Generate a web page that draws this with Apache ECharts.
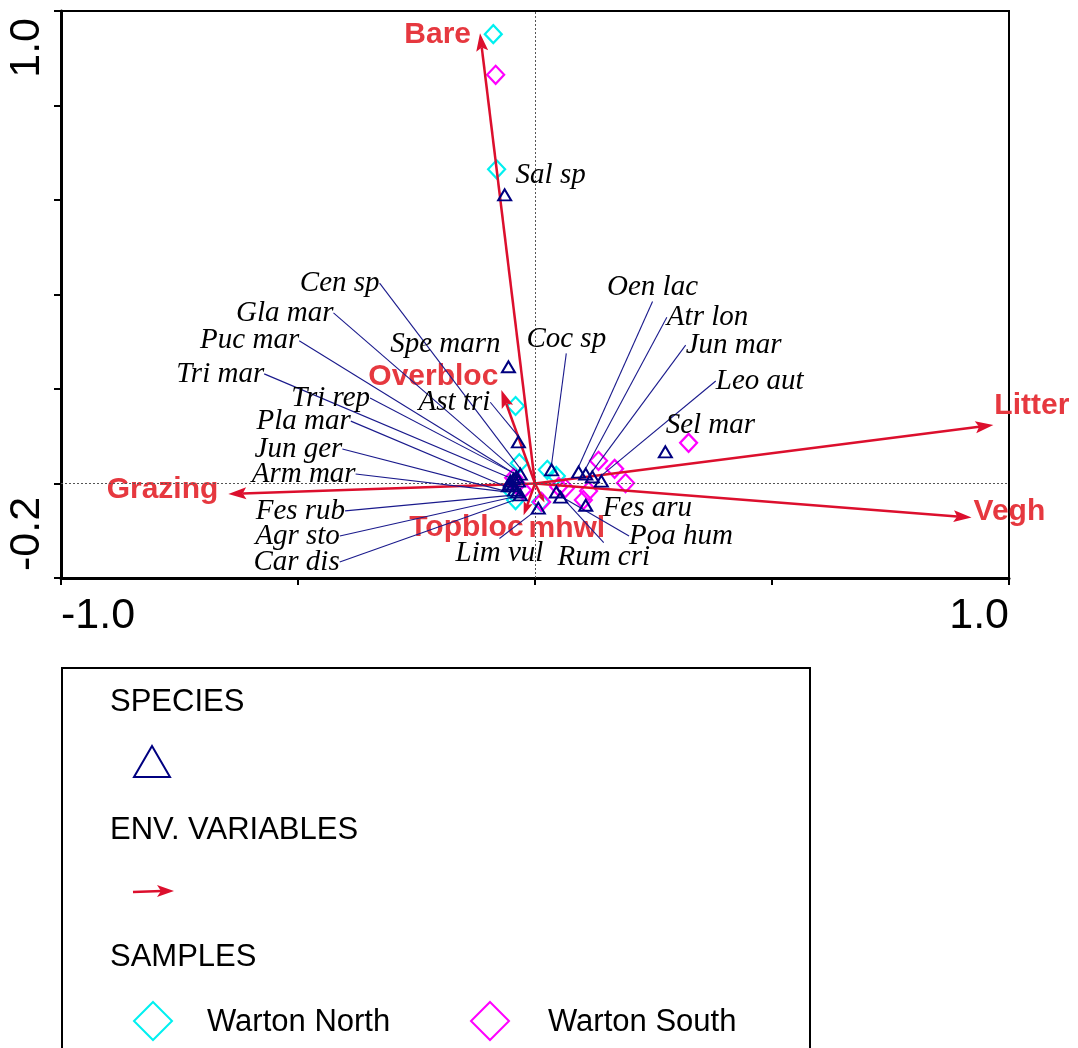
<!DOCTYPE html>
<html><head><meta charset="utf-8">
<script src="https://cdn.jsdelivr.net/npm/echarts@6/dist/echarts.min.js"></script>
<style>html,body{margin:0;padding:0;background:#fff}#c{width:1078px;height:1048px}</style>
</head><body><div id="c"></div>
<script>
// ---------- data ----------
const speciesNames = ['Sal sp','Spe marn','Ast tri','Cen sp','Gla mar','Puc mar','Tri mar','Tri rep','Pla mar','Jun ger','Arm mar','Fes rub','Agr sto','Car dis','Coc sp','Oen lac','Atr lon','Jun mar','Leo aut','Sel mar','Fes aru','Poa hum','Rum cri','Lim vul'];
const speciesX = [-0.064,-0.056,-0.035,-0.031,-0.039,-0.045,-0.052,-0.035,-0.052,-0.047,-0.056,-0.043,-0.037,-0.031,0.035,0.092,0.107,0.121,0.140,0.275,0.107,0.045,0.054,0.007];
const speciesY = [0.611,0.247,0.088,0.020,0.014,0.010,0.005,0.005,-0.001,-0.005,-0.005,-0.014,-0.018,-0.024,0.029,0.024,0.020,0.014,0.005,0.067,-0.046,-0.018,-0.029,-0.052];
// label (text centre) coordinates as placed in the biplot
const speciesLabelX = [0.033,-0.189,-0.170,-0.412,-0.528,-0.602,-0.664,-0.431,-0.488,-0.499,-0.488,-0.495,-0.501,-0.503,0.066,0.248,0.364,0.419,0.474,0.370,0.237,0.308,0.145,-0.075];
const speciesLabelY = [0.653,0.295,0.172,0.424,0.361,0.302,0.232,0.181,0.132,0.073,0.020,-0.058,-0.111,-0.166,0.306,0.416,0.352,0.293,0.217,0.124,-0.052,-0.111,-0.156,-0.147];
const speciesLeader = [false,false,true,true,true,true,true,true,true,true,true,true,true,true,true,true,true,true,true,false,false,true,true,true];

const envNames = ['Bare','Litter','Vegh','Grazing','Overbloc','Topbloc','mhwl'];
const envX = [-0.116,0.967,0.921,-0.647,-0.071,-0.024,0.020];
const envY = [0.953,0.124,-0.072,-0.022,0.198,-0.067,-0.040];

const northX = [-0.088,-0.081,-0.041,-0.033,0.026,0.045,-0.047,-0.041,0.012];
const northY = [0.951,0.665,0.164,0.043,0.029,0.016,-0.018,-0.035,-0.039];
const southX = [-0.083,0.324,0.134,0.168,0.191,0.064,0.113,0.102,0.014,-0.045,-0.039,-0.026,0.050];
const southY = [0.865,0.086,0.048,0.031,0.001,-0.010,-0.016,-0.035,-0.039,0.012,-0.003,-0.014,-0.007];

const xTickValues = [-1.0, 1.0];
const xTickText = ['-1.0', '1.0'];
const yTickValues = [1.0, -0.2];
const yTickText = ['1.0', '-0.2'];

// ---------- styling ----------
const RED = '#dc0f2d';
const RED_TXT = '#e6383f';
const NAVY = '#000080';
const envPlace = {
  'Bare':     {align:'right', dx:-9,  dy:2},
  'Litter':   {align:'left',  dx:1,   dy:-19},
  'Vegh':     {align:'left',  dx:2,   dy:-6},
  'Grazing':  {align:'right', dx:-10, dy:-4},
  'Overbloc': {align:'right', dx:-3,  dy:-13},
  'Topbloc':  {align:'right', dx:0,   dy:13},
  'mhwl':     {align:'left',  dx:-16, dy:26}
};

function tickFmt(vals, texts) {
  return function (v) {
    for (let i = 0; i < vals.length; i++) if (Math.abs(v - vals[i]) < 1e-6) return texts[i];
    return '';
  };
}

const chart = echarts.init(document.getElementById('c'), null, {renderer: 'canvas'});

const option = {
  animation: false,
  backgroundColor: '#fff',
  grid: {left: 61, top: 11, right: 69, bottom: 470, show: true, borderColor: '#000', borderWidth: 2, containLabel: false, outerBoundsMode: 'none'},
  xAxis: {
    type: 'value', min: -1, max: 1, interval: 0.5,
    axisLine: {onZero: false, lineStyle: {color: '#000', width: 3}},
    axisTick: {length: 7, lineStyle: {color: '#000', width: 2}},
    splitLine: {show: false},
    axisLabel: {margin: 17, fontSize: 43, color: '#000', fontFamily: 'Liberation Sans',
      showMinLabel: true, showMaxLabel: true, alignMinLabel: 'left', alignMaxLabel: 'right',
      formatter: tickFmt(xTickValues, xTickText)}
  },
  yAxis: {
    type: 'value', min: -0.2, max: 1.0, interval: 0.2,
    axisLine: {onZero: false, lineStyle: {color: '#000', width: 3}},
    axisTick: {length: 7, lineStyle: {color: '#000', width: 2}},
    splitLine: {show: false},
    axisLabel: {rotate: 90, margin: 12, fontSize: 43, color: '#000', fontFamily: 'Liberation Sans',
      padding: [0, 7, 0, 7],
      showMinLabel: true, showMaxLabel: true, alignMinLabel: 'left', alignMaxLabel: 'right',
      formatter: tickFmt(yTickValues, yTickText)}
  },
  series: [
    {
      type: 'scatter', name: 'Warton North', symbol: 'diamond', symbolSize: [17, 18], z: 3,
      itemStyle: {color: 'rgba(0,0,0,0)', borderColor: '#00f0f0', borderWidth: 2.2, opacity: 1},
      data: northX.map((x, i) => [x, northY[i]]),
      markLine: {silent: true, symbol: 'none', label: {show: false},
        lineStyle: {type: [2, 2], color: '#555', width: 1},
        data: [{xAxis: 0}, {yAxis: 0}]}
    },
    {
      type: 'scatter', name: 'Warton South', symbol: 'diamond', symbolSize: [17, 18], z: 3,
      itemStyle: {color: 'rgba(0,0,0,0)', borderColor: '#ff00ff', borderWidth: 2.2, opacity: 1},
      data: southX.map((x, i) => [x, southY[i]])
    },
    {
      type: 'custom', name: 'env', z: 4,
      data: envNames.map((n, i) => ({name: n, value: [envX[i], envY[i]]})),
      renderItem: function (params, api) {
        const name = envNames[params.dataIndex];
        const o = api.coord([0, 0]);
        const t = api.coord([api.value(0), api.value(1)]);
        const dx = t[0] - o[0], dy = t[1] - o[1];
        const L = Math.hypot(dx, dy) || 1;
        const ux = dx / L, uy = dy / L, px = -uy, py = ux;
        const hl = Math.min(18, L * 0.4), hw = Math.min(6, hl * 0.35);
        const b = [t[0] - ux * hl, t[1] - uy * hl];
        const n = [t[0] - ux * hl * 0.8, t[1] - uy * hl * 0.8];
        const pl = envPlace[name];
        return {type: 'group', children: [
          {type: 'line', shape: {x1: o[0], y1: o[1], x2: n[0], y2: n[1]}, style: {stroke: RED, lineWidth: 2.5}},
          {type: 'polygon', shape: {points: [t, [b[0] + px * hw, b[1] + py * hw], n, [b[0] - px * hw, b[1] - py * hw]]}, style: {fill: RED}},
          {type: 'text', x: t[0] + pl.dx, y: t[1] + pl.dy, style: {text: name, fill: RED_TXT,
            font: 'bold 30px "Liberation Sans"', align: pl.align, verticalAlign: 'middle',
            textAlign: pl.align, textVerticalAlign: 'middle'}}
        ]};
      }
    },
    {
      id: 'species', type: 'scatter', name: 'SPECIES', symbol: 'triangle', symbolSize: [13, 11], z: 5,
      itemStyle: {color: 'rgba(0,0,0,0)', borderColor: NAVY, borderWidth: 2, opacity: 1},
      data: speciesNames.map((n, i) => ({name: n, value: [speciesX[i], speciesY[i]], labelLine: {show: speciesLeader[i]}})),
      label: {show: true, formatter: '{b}', fontFamily: 'Liberation Serif', fontStyle: 'italic', fontSize: 29, color: '#000', opacity: 1},
      labelLine: {show: true, length2: 0, smooth: false, lineStyle: {color: '#1a1a8c', width: 1.1, opacity: 1}},
      labelLayout: function (p) {
        const pt = chart.convertToPixel({gridIndex: 0}, [speciesLabelX[p.dataIndex], speciesLabelY[p.dataIndex]]);
        return {x: pt[0], y: pt[1], align: 'center', verticalAlign: 'middle'};
      }
    }
  ],
  graphic: [
    {type: 'rect', shape: {x: 62, y: 668, width: 748, height: 420}, style: {fill: 'none', stroke: '#000', lineWidth: 2}},
    {type: 'text', x: 110, y: 702, style: {text: 'SPECIES', font: '31px "Liberation Sans"', fill: '#000', verticalAlign: 'middle', textVerticalAlign: 'middle'}},
    {type: 'polygon', shape: {points: [[152, 746], [170, 777], [134, 777]]}, style: {fill: 'none', stroke: NAVY, lineWidth: 2}},
    {type: 'text', x: 110, y: 830, style: {text: 'ENV. VARIABLES', font: '31px "Liberation Sans"', fill: '#000', verticalAlign: 'middle', textVerticalAlign: 'middle'}},
    {type: 'line', shape: {x1: 133, y1: 892, x2: 162, y2: 891}, style: {stroke: RED, lineWidth: 2.5}},
    {type: 'polygon', shape: {points: [[174, 891], [157, 885], [161, 891], [157, 897]]}, style: {fill: RED}},
    {type: 'text', x: 110, y: 957, style: {text: 'SAMPLES', font: '31px "Liberation Sans"', fill: '#000', verticalAlign: 'middle', textVerticalAlign: 'middle'}},
    {type: 'polygon', shape: {points: [[153, 1002], [172, 1021], [153, 1040], [134, 1021]]}, style: {fill: 'none', stroke: '#00f0f0', lineWidth: 2}},
    {type: 'text', x: 207, y: 1022, style: {text: 'Warton North', font: '31px "Liberation Sans"', fill: '#000', verticalAlign: 'middle', textVerticalAlign: 'middle'}},
    {type: 'polygon', shape: {points: [[490, 1002], [509, 1021], [490, 1040], [471, 1021]]}, style: {fill: 'none', stroke: '#ff00ff', lineWidth: 2}},
    {type: 'text', x: 548, y: 1022, style: {text: 'Warton South', font: '31px "Liberation Sans"', fill: '#000', verticalAlign: 'middle', textVerticalAlign: 'middle'}}
  ]
};
chart.setOption(option);
</script>
</body></html>
